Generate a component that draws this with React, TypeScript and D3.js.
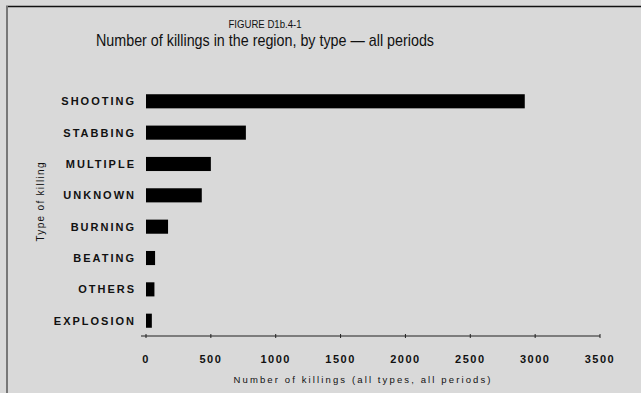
import React from "react";
import * as d3 from "d3";

const categories = ["SHOOTING", "STABBING", "MULTIPLE", "UNKNOWN", "BURNING", "BEATING", "OTHERS", "EXPLOSION"];
const killings = [2920, 770, 500, 430, 170, 70, 65, 45];
const tickValues = [0, 500, 1000, 1500, 2000, 2500, 3000, 3500];

const figureLabel = "FIGURE D1b.4-1";
const title = "Number of killings in the region, by type — all periods";
const xTitle = "Number of killings (all types, all periods)";
const yTitle = "Type of killing";

const W = 641;
const H = 393;

export default function App() {
  const x = d3.scaleLinear().domain([0, 3500]).range([146, 600]);
  const y = d3.scaleBand<string>().domain(categories).range([77, 345]).paddingInner(0.55).paddingOuter(0.55);
  const narrow = "'Liberation Sans Narrow', 'Arial Narrow', 'Liberation Sans', Arial, sans-serif";
  const sans = "'Liberation Sans', Arial, sans-serif";
  const axisY = 336;

  return (
    <svg width={W} height={H} style={{ position: "absolute", left: 0, top: 0, background: "#d9d9d9" }}>
      <rect x={0} y={0} width={W} height={H} fill="#d9d9d9" />
      {/* frame */}
      <line x1={6} x2={W} y1={6.5} y2={6.5} stroke="#111" strokeWidth={1.5} />
      <line x1={7} x2={7} y1={6} y2={H} stroke="#777" strokeWidth={2} />

      <text x={265} y={28} textAnchor="middle" fontFamily={narrow} fontSize={11} fill="#111"
        textLength={73} lengthAdjust="spacingAndGlyphs">{figureLabel}</text>
      <text x={265} y={46} textAnchor="middle" fontFamily={narrow} fontSize={17} fill="#111"
        textLength={338} lengthAdjust="spacingAndGlyphs">{title}</text>

      {/* bars */}
      {categories.map((c, i) => (
        <rect key={c} x={x(0)} y={y(c)!} width={x(killings[i]) - x(0)} height={y.bandwidth()} fill="#000" />
      ))}

      {/* category labels */}
      {categories.map((c) => (
        <text key={c} x={136} y={y(c)! + y.bandwidth() / 2 + 4} textAnchor="end" fontFamily={sans}
          fontSize={11} fontWeight="bold" letterSpacing={2} fill="#111">{c}</text>
      ))}

      {/* x axis */}
      <line x1={x(0) - 5} x2={x(3500)} y1={axisY} y2={axisY} stroke="#222" strokeWidth={1.2} />
      {tickValues.map((t) => (
        <g key={t}>
          <line x1={x(t)} x2={x(t)} y1={axisY - 2} y2={axisY + 2} stroke="#222" strokeWidth={1} />
          <text x={x(t)} y={363} textAnchor="middle" fontFamily={sans} fontSize={11} fontWeight="bold"
            letterSpacing={1.5} fill="#111">{t}</text>
        </g>
      ))}
      <text x={362} y={383} textAnchor="middle" fontFamily={sans} fontSize={9.5} fill="#111"
        textLength={257} lengthAdjust="spacing">{xTitle}</text>

      <text transform="translate(44,202) rotate(-90)" textAnchor="middle" fontFamily={sans} fontSize={10}
        fill="#111" textLength={79} lengthAdjust="spacing">{yTitle}</text>
    </svg>
  );
}
